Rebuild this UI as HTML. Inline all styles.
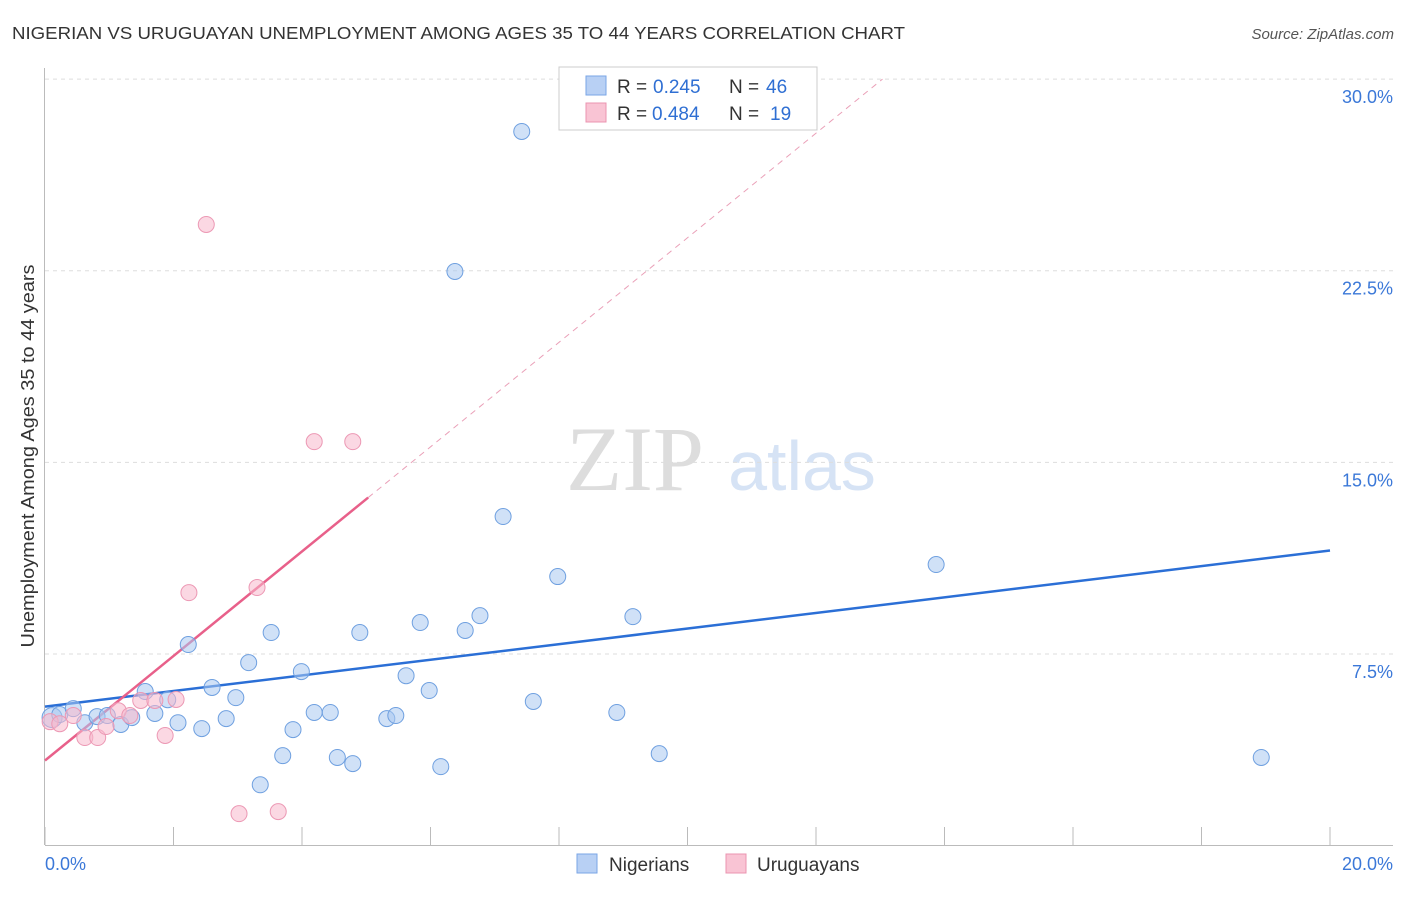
<!DOCTYPE html>
<html><head><meta charset="utf-8"><style>
body{margin:0;background:#fff;font-family:"Liberation Sans",sans-serif}
</style></head><body>
<svg id="chart" width="1406" height="892" xmlns="http://www.w3.org/2000/svg" font-family="Liberation Sans, sans-serif">
<text x="12" y="39" font-size="17.5" fill="#333" textLength="893" lengthAdjust="spacingAndGlyphs">NIGERIAN VS URUGUAYAN UNEMPLOYMENT AMONG AGES 35 TO 44 YEARS CORRELATION CHART</text>
<text x="1394" y="39" font-size="15" fill="#555" text-anchor="end" font-style="italic">Source: ZipAtlas.com</text>
<g>
<text x="635" y="490" font-size="92" fill="#ddd" text-anchor="middle" font-family="Liberation Serif, serif">ZIP</text>
<text x="802" y="490" font-size="70" fill="#d6e3f5" text-anchor="middle">atlas</text>
</g>
<text transform="translate(34,456) rotate(-90)" font-size="18" fill="#333" text-anchor="middle" textLength="383" lengthAdjust="spacingAndGlyphs">Unemployment Among Ages 35 to 44 years</text>
<g id="grid"></g><g id="axes"></g><g id="lines"></g><g id="pts"></g>
<g font-size="19">
<rect x="559" y="67" width="258" height="63" fill="#fff" stroke="#ccc"/>
<rect x="586" y="76" width="20" height="19" fill="#b8d0f4" stroke="#7aa6e6"/>
<text x="617" y="93" fill="#333">R =</text><text x="653" y="93" fill="#2f6fd3">0.245</text>
<text x="729" y="93" fill="#333">N =</text><text x="766" y="93" fill="#2f6fd3">46</text>
<rect x="586" y="103" width="20" height="19" fill="#f9c4d4" stroke="#eb94b0"/>
<text x="617" y="120" fill="#333">R =</text><text x="652" y="120" fill="#2f6fd3">0.484</text>
<text x="729" y="120" fill="#333">N =</text><text x="770" y="120" fill="#2f6fd3">19</text>
</g>
<g>
<rect x="577" y="854" width="20" height="19" fill="#b8d0f4" stroke="#7aa6e6"/>
<text x="609" y="871" font-size="19" fill="#333">Nigerians</text>
<rect x="726" y="854" width="20" height="19" fill="#f9c4d4" stroke="#eb94b0"/>
<text x="757" y="871" font-size="19" fill="#333">Uruguayans</text>
</g>
</svg>
<script>
const yTicks=[7.5,15,22.5,30];
const yTickLabels=["7.5%","15.0%","22.5%","30.0%"];
const xTickVals=[0,2,4,6,8,10,12,14,16,18,20];
const nigX=[0.11,0.23,0.44,0.62,0.81,0.97,1.18,1.35,1.56,1.71,1.91,2.07,2.23,2.44,2.60,2.82,2.97,3.17,3.35,3.52,3.70,3.86,3.99,4.19,4.44,4.55,4.79,4.90,5.32,5.46,5.62,5.84,5.98,6.16,6.38,6.54,6.77,7.13,7.42,7.60,7.98,8.90,9.15,9.56,13.87,18.93];
const nigY=[5.01,5.13,5.36,4.81,5.05,5.09,4.74,5.01,6.03,5.17,5.71,4.81,7.87,4.58,6.19,4.97,5.79,7.16,2.38,8.34,3.52,4.54,6.81,5.21,5.21,3.45,3.21,8.34,4.97,5.09,6.65,8.73,6.07,3.09,22.47,8.42,9.00,12.88,27.95,5.64,10.53,5.21,8.96,3.60,11.00,3.45];
const urX=[0.08,0.23,0.44,0.62,0.82,0.95,1.14,1.32,1.49,1.71,1.87,2.04,2.24,2.51,3.02,3.30,3.63,4.19,4.79];
const urY=[4.85,4.77,5.09,4.23,4.23,4.66,5.28,5.09,5.68,5.68,4.31,5.72,9.90,24.31,1.25,10.10,1.33,15.81,15.81];
const nigLine=[5.44,11.55];
const urLine=[3.33,2.046];
const NS="http://www.w3.org/2000/svg";
const X=v=>45+v*64.25, Y=v=>845.6-v*25.55;
function mk(t,a,p){const e=document.createElementNS(NS,t);for(const k in a)e.setAttribute(k,a[k]);p.appendChild(e);return e;}
const grid=document.getElementById('grid'),axes=document.getElementById('axes'),lines=document.getElementById('lines'),pts=document.getElementById('pts');
yTicks.forEach((v,i)=>{
 const l=mk('line',{x1:45,x2:1393,y1:Y(v),y2:Y(v),stroke:'#ddd','stroke-dasharray':'4,4'},grid);
 
 
 const t=mk('text',{x:1393,y:Y(v)+24,'font-size':18,fill:'#3b78d8','text-anchor':'end'},axes);
 t.textContent=yTickLabels[i];
 
 
});
const ax=mk('line',{x1:45,x2:1393,y1:845.5,y2:845.5,stroke:'#bbb'},axes);


const ay=mk('line',{x1:44.5,x2:44.5,y1:68,y2:845,stroke:'#bbb'},axes);


xTickVals.forEach(v=>{const t=mk('line',{x1:X(v),x2:X(v),y1:827,y2:845,stroke:'#bbb'},axes);
 
 });
const xl0=mk('text',{x:45,y:870,'font-size':18,fill:'#3b78d8'},axes);xl0.textContent='0.0%';


const xl1=mk('text',{x:1393,y:870,'font-size':18,fill:'#3b78d8','text-anchor':'end'},axes);xl1.textContent='20.0%';


const bl=mk('line',{x1:X(0),y1:Y(nigLine[0]),x2:X(20),y2:Y(nigLine[1]),stroke:'#2b6fd6','stroke-width':2.5},lines);


const xe=(30-urLine[0])/urLine[1];
const pd=mk('line',{x1:X(5.03),y1:Y(urLine[0]+urLine[1]*5.03),x2:X(xe),y2:Y(30),stroke:'#eaa0b8','stroke-width':1,'stroke-dasharray':'6,5'},lines);


const pl=mk('line',{x1:X(0),y1:Y(urLine[0]),x2:X(5.03),y2:Y(urLine[0]+urLine[1]*5.03),stroke:'#e8608a','stroke-width':2.5},lines);


nigX.forEach((x,i)=>{const c=mk('circle',{cx:X(x),cy:Y(nigY[i]),r:i==0?10:8,fill:'rgba(170,200,240,0.55)',stroke:'#6fa0e0','stroke-width':1},pts);
 
 });
urX.forEach((x,i)=>{const c=mk('circle',{cx:X(x),cy:Y(urY[i]),r:8,fill:'rgba(248,184,204,0.55)',stroke:'#ec98b4','stroke-width':1},pts);
 
 });
</script>
</body></html>
